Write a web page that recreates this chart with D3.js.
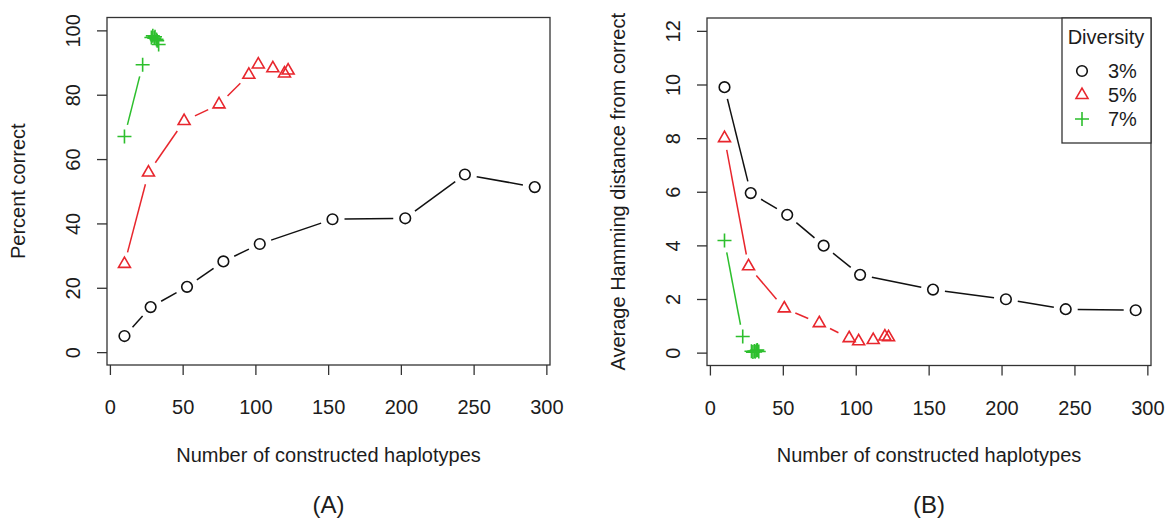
<!DOCTYPE html>
<html>
<head>
<meta charset="utf-8">
<script src="https://cdn.jsdelivr.net/npm/d3@7"></script>
<style>
  body { margin: 0; background: #fff; }
  text { font-family: "Liberation Sans", Arial, Helvetica, sans-serif; fill: #1c1c1c; }
</style>
</head>
<body>
<div id="chart"></div>
<script>
// values
var haplotypes3 = [10, 28, 53, 78, 103, 153, 203, 244, 292];
var haplotypes5 = [10, 26.5, 51, 75, 95.5, 102, 112, 120, 122.5];
var haplotypes7 = [10, 22.5, 28.5, 29.5, 30.5, 31, 32, 32.5, 33.5];

var percent3 = [5, 14, 20.3, 28.2, 33.6, 41.3, 41.6, 55.2, 51.3];
var percent5 = [27.4, 55.8, 71.8, 77, 86.2, 89.4, 88.2, 86.6, 87.5];
var percent7 = [67, 89.3, 97.8, 98.3, 97.6, 98.0, 97.2, 96.8, 95.6];

var hamming3 = [9.9, 5.95, 5.14, 3.99, 2.9, 2.35, 1.99, 1.62, 1.58];
var hamming5 = [8.0, 3.22, 1.65, 1.1, 0.54, 0.42, 0.47, 0.6, 0.57];
var hamming7 = [4.18, 0.6, 0.05, 0.02, 0.06, 0.03, 0.08, 0.1, 0.04];

var diversityLabels = ["3%", "5%", "7%"];
var xTicks = [0, 50, 100, 150, 200, 250, 300];
var percentTicks = [0, 20, 40, 60, 80, 100];
var hammingTicks = [0, 2, 4, 6, 8, 10, 12];

var COLORS = ["#111111", "#e8262d", "#2dbf2d"];
var SHAPES = ["circle", "triangle", "plus"];
var GAP = 12;

var svg = d3.select("#chart").append("svg")
  .attr("width", 1166)
  .attr("height", 520);

function drawSymbol(g, shape, color, px, py) {
  if (shape == "circle") {
    g.append("circle").attr("cx", px).attr("cy", py).attr("r", 5.3)
      .attr("fill", "none").attr("stroke", color).attr("stroke-width", 1.6);
  } else if (shape == "triangle") {
    g.append("path").attr("d", d3.symbol(d3.symbolTriangle, 62)())
      .attr("transform", "translate(" + px + "," + py + ")")
      .attr("fill", "none").attr("stroke", color).attr("stroke-width", 1.6);
  } else {
    g.append("path").attr("d", "M-7,0H7M0,-7V7")
      .attr("transform", "translate(" + px + "," + py + ")")
      .attr("fill", "none").attr("stroke", color).attr("stroke-width", 1.6);
  }
}

function drawPanel(p) {
  var x = d3.scaleLinear().domain([-2, 302.5]).range([p.left, p.right]);
  var y = d3.scaleLinear().domain(p.yDomain).range([p.bottom, p.top]);
  var g = svg.append("g");

  var xAxis = d3.axisBottom(x).tickValues(xTicks).tickSize(10).tickSizeOuter(0);
  var gx = g.append("g").attr("transform", "translate(0," + p.bottom + ")").call(xAxis);
  gx.select(".domain").remove();
  gx.selectAll("line").attr("stroke", "#333").attr("stroke-width", 1.3);
  gx.selectAll("text").attr("y", 42).attr("dy", "0.35em")
    .style("font-size", "20px").attr("fill", "#1c1c1c");

  var yAxis = d3.axisLeft(y).tickValues(p.yTicks).tickSize(10).tickSizeOuter(0);
  var gy = g.append("g").attr("transform", "translate(" + p.left + ",0)").call(yAxis);
  gy.select(".domain").remove();
  gy.selectAll("line").attr("stroke", "#333").attr("stroke-width", 1.3);
  gy.selectAll("text").attr("x", 0).attr("y", 0).attr("dy", "0.35em")
    .attr("text-anchor", "middle")
    .attr("transform", "translate(-34,0) rotate(-90)")
    .style("font-size", "20px").attr("fill", "#1c1c1c");

  g.append("rect")
    .attr("x", p.left).attr("y", p.top)
    .attr("width", p.right - p.left).attr("height", p.bottom - p.top)
    .attr("fill", "none").attr("stroke", "#333").attr("stroke-width", 1.3);

  var cx = (p.left + p.right) / 2;
  g.append("text").attr("x", cx).attr("y", 455).attr("dy", "0.35em")
    .attr("text-anchor", "middle").style("font-size", "20px")
    .text("Number of constructed haplotypes");
  g.append("text").attr("x", cx).attr("y", 505).attr("dy", "0.35em")
    .attr("text-anchor", "middle").style("font-size", "24px")
    .text(p.letter);
  g.append("text")
    .attr("transform", "translate(" + (p.left - 89) + "," + ((p.top + p.bottom) / 2) + ") rotate(-90)")
    .attr("dy", "0.35em").attr("text-anchor", "middle").style("font-size", "20px")
    .text(p.ylab);

  p.series.forEach(function (s, k) {
    var pts = s.xs.map(function (v, i) { return [x(v), y(s.ys[i])]; });
    // type="b": segments stop short of each point, short ones are skipped
    for (var i = 0; i < pts.length - 1; i++) {
      var dx = pts[i + 1][0] - pts[i][0], dy = pts[i + 1][1] - pts[i][1];
      var len = Math.sqrt(dx * dx + dy * dy);
      if (len <= 2 * GAP + 6) continue;
      var ux = dx / len, uy = dy / len;
      g.append("line")
        .attr("x1", pts[i][0] + ux * GAP).attr("y1", pts[i][1] + uy * GAP)
        .attr("x2", pts[i + 1][0] - ux * GAP).attr("y2", pts[i + 1][1] - uy * GAP)
        .attr("stroke", COLORS[k]).attr("stroke-width", 1.5);
    }
    pts.forEach(function (pt) { drawSymbol(g, SHAPES[k], COLORS[k], pt[0], pt[1]); });
  });
}

drawPanel({
  left: 107, right: 550, top: 17.5, bottom: 365,
  yDomain: [-4, 104], yTicks: percentTicks,
  ylab: "Percent correct", letter: "(A)",
  series: [
    { xs: haplotypes3, ys: percent3 },
    { xs: haplotypes5, ys: percent5 },
    { xs: haplotypes7, ys: percent7 }
  ]
});

drawPanel({
  left: 707, right: 1151, top: 18, bottom: 365.5,
  yDomain: [-0.48, 12.48], yTicks: hammingTicks,
  ylab: "Average Hamming distance from correct", letter: "(B)",
  series: [
    { xs: haplotypes3, ys: hamming3 },
    { xs: haplotypes5, ys: hamming5 },
    { xs: haplotypes7, ys: hamming7 }
  ]
});

// legend
var lg = svg.append("g");
lg.append("rect").attr("x", 1062).attr("y", 18).attr("width", 89).attr("height", 125)
  .attr("fill", "#fff").attr("stroke", "#333").attr("stroke-width", 1.3);
lg.append("text").attr("x", 1106).attr("y", 37).attr("dy", "0.35em")
  .attr("text-anchor", "middle").style("font-size", "20px").text("Diversity");
diversityLabels.forEach(function (lab, i) {
  var ly = 71 + i * 24;
  drawSymbol(lg, SHAPES[i], COLORS[i], 1082, ly);
  lg.append("text").attr("x", 1108).attr("y", ly).attr("dy", "0.35em")
    .style("font-size", "20px").text(lab);
});
</script>
</body>
</html>
